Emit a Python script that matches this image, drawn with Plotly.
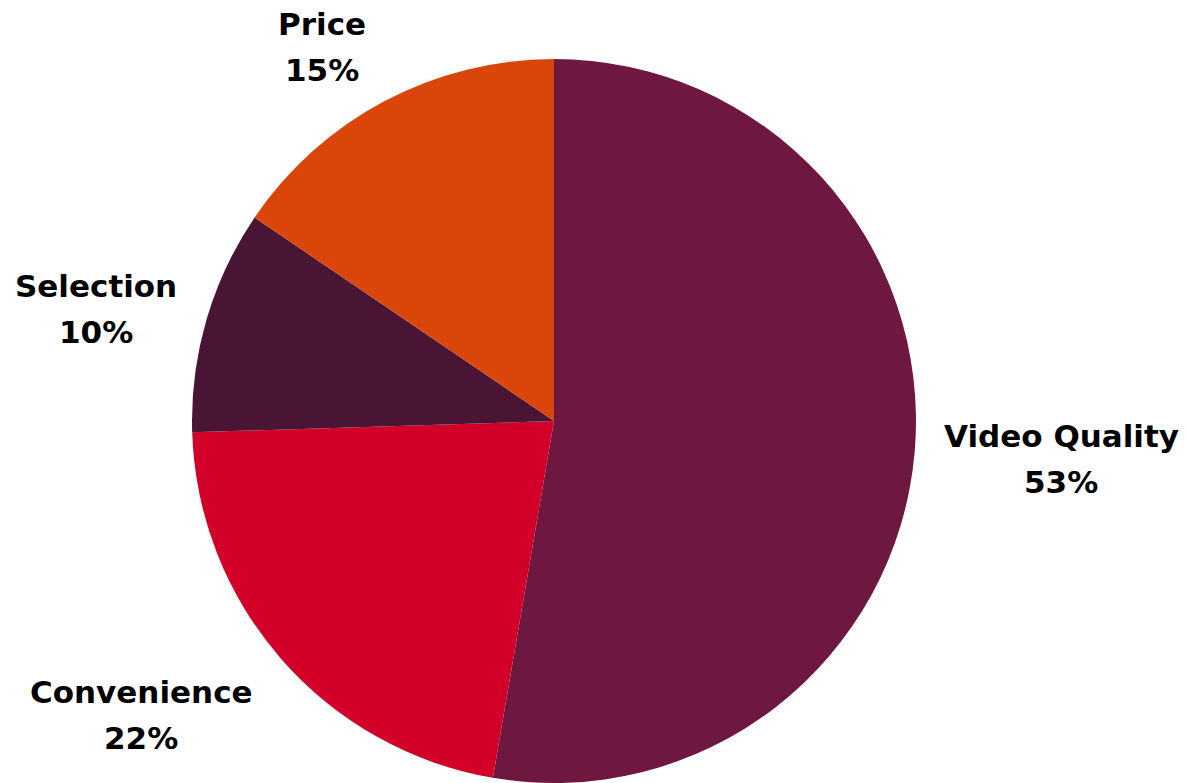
import plotly.graph_objects as go

categories = ["Video Quality", "Convenience", "Selection", "Price"]
values = [52.7, 21.8, 10.0, 15.5]
pct_labels = ["53%", "22%", "10%", "15%"]
colors = ["#6E1741", "#D20029", "#4A1535", "#DA4609"]

W, H = 1186, 783
# label anchor points (pixel centers of name line, baseline of first line)
label_pos = {
    "Video Quality": (1061, 447),
    "Convenience": (141, 703),
    "Selection": (96, 297),
    "Price": (322, 35),
}
line_gap = 46
fs = 31

fig = go.Figure()
fig.add_trace(go.Pie(
    labels=categories,
    values=values,
    marker=dict(colors=colors, line=dict(width=0)),
    sort=False,
    direction="clockwise",
    rotation=0,
    textinfo="none",
    hoverinfo="label+percent",
    showlegend=False,
    domain=dict(x=[192 / W, 916 / W], y=[0, 724 / H]),
))

annotations = []
font = dict(family="DejaVu Sans", size=fs, color="#000000")
for name, pct in zip(categories, pct_labels):
    cx, by = label_pos[name]
    for i, txt in enumerate([name, pct]):
        mid = by + i * line_gap - 0.36 * fs
        annotations.append(dict(
            x=cx / W, y=1 - mid / H, xref="paper", yref="paper",
            text=f"<b>{txt}</b>", showarrow=False,
            xanchor="center", yanchor="middle", font=font,
        ))

fig.update_layout(
    width=W, height=H,
    margin=dict(l=0, r=0, t=0, b=0),
    paper_bgcolor="white", plot_bgcolor="white",
    annotations=annotations,
)
fig.write_html(
    "out.html",
    config={"displayModeBar": False},
    post_script="document.body.style.margin='0';document.body.style.overflow='hidden';",
)
